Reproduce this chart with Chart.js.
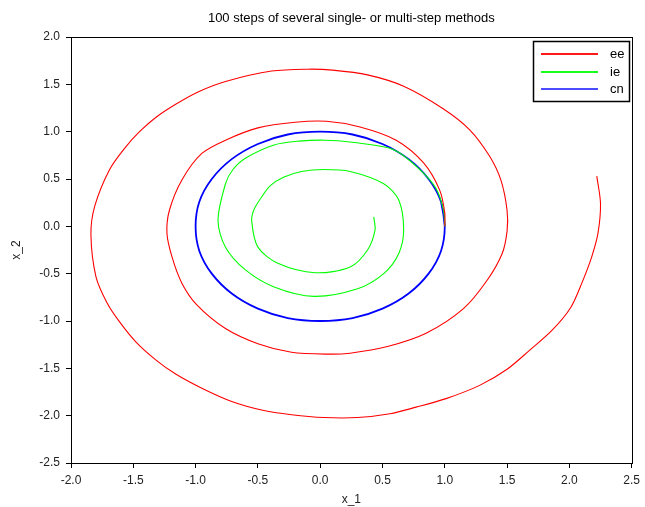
<!DOCTYPE html>
<html>
<head>
<meta charset="utf-8">
<script src="https://cdn.jsdelivr.net/npm/chart.js@4"></script>
<style>
  body { margin: 0; background: #fff; }
  canvas { display: block; }
</style>
</head>
<body>
<canvas id="stepsChart" width="645" height="507"></canvas>
<script>
  // values
  const eeX = [1.00, 1.00, 0.96, 0.83, 0.61, 0.32, 0.05, -0.20, -0.50, -0.76, -0.95, -1.11, -1.21, -1.23, -1.19, -1.11, -0.99, -0.76, -0.50, -0.23, 0.06, 0.24, 0.54, 0.85, 1.15, 1.34, 1.46, 1.50, 1.50, 1.45, 1.36, 1.20, 0.99, 0.67, 0.38, 0.10, -0.10, -0.39, -0.76, -0.98, -1.16, -1.32, -1.45, -1.56, -1.69, -1.81, -1.84, -1.80, -1.71, -1.61, -1.48, -1.32, -1.16, -0.95, -0.71, -0.47, -0.23, 0.03, 0.30, 0.56, 0.77, 1.01, 1.28, 1.50, 1.68, 1.86, 2.01, 2.10, 2.18, 2.23, 2.25, 2.22];
  const eeY = [0.00, 0.14, 0.38, 0.67, 0.91, 1.05, 1.11, 1.10, 1.04, 0.91, 0.77, 0.49, 0.17, -0.07, -0.32, -0.60, -0.83, -1.08, -1.24, -1.33, -1.35, -1.34, -1.27, -1.13, -0.87, -0.57, -0.29, -0.05, 0.17, 0.49, 0.74, 1.02, 1.24, 1.48, 1.60, 1.65, 1.66, 1.64, 1.53, 1.42, 1.29, 1.15, 1.00, 0.84, 0.60, 0.21, -0.09, -0.53, -0.81, -1.01, -1.22, -1.41, -1.56, -1.71, -1.85, -1.94, -1.99, -2.02, -2.02, -1.98, -1.91, -1.82, -1.68, -1.51, -1.31, -1.10, -0.86, -0.60, -0.32, -0.07, 0.24, 0.53];

  const ieX = [1.00, 0.99, 0.93, 0.80, 0.59, 0.24, 0.04, -0.17, -0.37, -0.60, -0.70, -0.76, -0.82, -0.76, -0.60, -0.37, -0.05, 0.30, 0.51, 0.63, 0.67, 0.63, 0.51, 0.24, 0.03, -0.15, -0.29, -0.40, -0.47, -0.53, -0.55, -0.50, -0.34, -0.04, 0.24, 0.38, 0.44, 0.43];
  const ieY = [0.00, 0.17, 0.40, 0.60, 0.81, 0.89, 0.91, 0.90, 0.86, 0.72, 0.60, 0.45, 0.06, -0.22, -0.46, -0.64, -0.74, -0.66, -0.50, -0.29, -0.04, 0.28, 0.45, 0.58, 0.60, 0.58, 0.52, 0.43, 0.31, 0.18, 0.06, -0.22, -0.39, -0.49, -0.43, -0.25, -0.04, 0.10];

  const cnX = [1.00, 0.97, 0.87, 0.71, 0.50, 0.26, 0.00, -0.26, -0.50, -0.71, -0.87, -0.97, -1.00, -0.97, -0.87, -0.71, -0.50, -0.26, 0.00, 0.26, 0.50, 0.71, 0.87, 0.97, 1.00, 0.97];
  const cnY = [0.00, 0.26, 0.50, 0.71, 0.87, 0.97, 1.00, 0.97, 0.87, 0.71, 0.50, 0.26, 0.00, -0.26, -0.50, -0.71, -0.87, -0.97, -1.00, -0.97, -0.87, -0.71, -0.50, -0.26, 0.00, 0.26];

  const seriesNames = ['ee', 'ie', 'cn'];
  const seriesColors = ['#ff0000', '#00ff00', '#0000ff'];

  const toPoints = (xs, ys) => xs.map((x, i) => ({ x: x, y: ys[i] }));
  const fmt = v => v.toFixed(1);
  const fontFamily = "'Liberation Sans', Arial, sans-serif";

  // box round the plot area
  const frame = {
    id: 'frame',
    afterDatasetsDraw(chart) {
      const a = chart.chartArea, ctx = chart.ctx;
      ctx.save();
      ctx.strokeStyle = '#000';
      ctx.lineWidth = 1;
      ctx.strokeRect(Math.round(a.left) + 0.5, Math.round(a.top) + 0.5,
        Math.round(a.right - a.left), Math.round(a.bottom - a.top));
      ctx.restore();
    }
  };

  // scilab-like legend in the top right corner
  const boxLegend = {
    id: 'boxLegend',
    afterDraw(chart) {
      const ctx = chart.ctx;
      ctx.save();
      ctx.fillStyle = '#fff';
      ctx.fillRect(533, 41, 97, 61);
      ctx.strokeStyle = '#000';
      ctx.lineWidth = 1.5;
      ctx.strokeRect(533.5, 41.5, 96, 60);
      ctx.font = '13px ' + fontFamily;
      ctx.textBaseline = 'middle';
      chart.data.datasets.forEach((ds, i) => {
        const y = [54, 72, 89][i];
        ctx.strokeStyle = ds.borderColor;
        ctx.lineWidth = 2;
        ctx.globalAlpha = i == 2 ? 0.7 : 0.9;
        ctx.beginPath();
        ctx.moveTo(541, y);
        ctx.lineTo(598, y);
        ctx.stroke();
        ctx.globalAlpha = 1;
        ctx.fillStyle = '#000';
        ctx.fillText(ds.label, 610, y);
      });
      ctx.restore();
    }
  };

  const ctx = document.getElementById('stepsChart');

  new Chart(ctx, {
    type: 'scatter',
    data: {
      datasets: [
        { label: seriesNames[0], data: toPoints(eeX, eeY), borderColor: seriesColors[0], borderWidth: 1.1 },
        { label: seriesNames[1], data: toPoints(ieX, ieY), borderColor: seriesColors[1], borderWidth: 1.1 },
        { label: seriesNames[2], data: toPoints(cnX, cnY), borderColor: seriesColors[2], borderWidth: 1.8 }
      ].map(ds => Object.assign(ds, { showLine: true, pointRadius: 0, tension: 0.3, fill: false }))
    },
    options: {
      responsive: false,
      animation: false,
      layout: { padding: { left: 0, right: 9, top: 0, bottom: 0 } },
      plugins: {
        legend: { display: false },
        tooltip: { enabled: false },
        title: {
          display: true,
          fullSize: false,
          text: '100 steps of several single- or multi-step methods',
          color: '#000',
          font: { family: fontFamily, size: 13, weight: 'normal' },
          padding: { top: 11, bottom: 10.4 }
        }
      },
      scales: {
        x: {
          type: 'linear',
          min: -2, max: 2.5,
          afterFit: s => { s.height = 44; },
          border: { display: true, color: '#000', width: 1 },
          grid: { display: true, drawOnChartArea: false, drawTicks: true, tickLength: 5, color: '#000' },
          ticks: {
            stepSize: 0.5, padding: 5, color: '#222',
            font: { family: fontFamily, size: 12 },
            callback: fmt, maxRotation: 0
          },
          title: {
            display: true, text: 'x_1', color: '#222',
            font: { family: fontFamily, size: 12 },
            padding: { top: 0, bottom: 0 }
          }
        },
        y: {
          type: 'linear',
          min: -2.5, max: 2,
          afterFit: s => { s.width = 71; },
          border: { display: true, color: '#000', width: 1 },
          grid: { display: true, drawOnChartArea: false, drawTicks: true, tickLength: 5, color: '#000' },
          ticks: {
            stepSize: 0.5, padding: 6, color: '#222',
            font: { family: fontFamily, size: 12 },
            callback: fmt
          },
          title: {
            display: true, text: 'x_2', color: '#222',
            font: { family: fontFamily, size: 12 },
            padding: { top: 9, bottom: 0 }
          }
        }
      }
    },
    plugins: [frame, boxLegend]
  });
</script>
</body>
</html>
